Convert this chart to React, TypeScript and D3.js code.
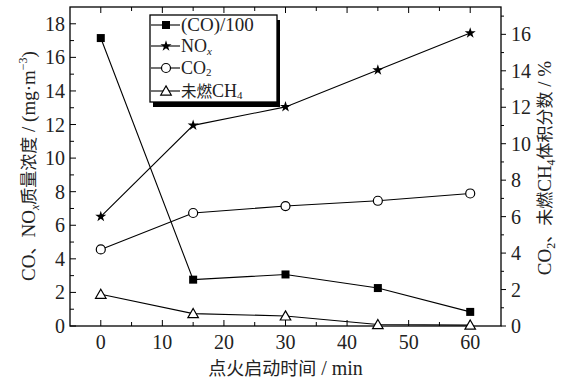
import { useEffect, useRef } from 'react';
import * as d3 from 'd3';

// time after ignition, min
const times = [0, 15, 30, 45, 60];
// left axis (mg/m3)
const coOver100 = [17.15, 2.76, 3.07, 2.26, 0.84];
const nox = [6.52, 11.95, 13.05, 15.25, 17.45];
// right axis (%)
const co2 = [4.2, 6.2, 6.58, 6.87, 7.27];
const ch4 = [1.74, 0.68, 0.55, 0.08, 0.05];

const xTicks = [0, 10, 20, 30, 40, 50, 60];
const leftTicks = [0, 2, 4, 6, 8, 10, 12, 14, 16, 18];
const rightTicks = [0, 2, 4, 6, 8, 10, 12, 14, 16];

const serif = '"Liberation Serif", "Times New Roman", serif';
const cjk = '"Noto Sans CJK SC", "Liberation Serif", serif';

export default function App() {
  const svgRef = useRef<SVGSVGElement>(null);

  useEffect(() => {
    if (!svgRef.current) return;
    d3.select(svgRef.current).selectAll("*").remove();

    const width = 563;
    const height = 386;
    const margin = { top: 7, right: 62, bottom: 60, left: 70 };

    const svg = d3.select(svgRef.current)
      .attr("width", width)
      .attr("height", height)
      .attr("viewBox", [0, 0, width, height]);

    svg.append("rect").attr("width", width).attr("height", height).attr("fill", "white");

    const x = d3.scaleLinear().domain([-5, 65]).range([margin.left, width - margin.right]);
    const yL = d3.scaleLinear().domain([0, 19]).range([height - margin.bottom, margin.top]);
    const yR = d3.scaleLinear().domain([0, 17.5]).range([height - margin.bottom, margin.top]);

    const x0 = margin.left, x1 = width - margin.right;
    const y0 = height - margin.bottom, y1 = margin.top;

    // ticks (bottom/top/left inward, right outward)
    const ax = svg.append("g").attr("stroke", "black").attr("stroke-width", 1);
    d3.range(0, 61, 5).forEach(v => {
      const len = v % 10 === 0 ? 6 : 4;
      ax.append("line").attr("x1", x(v)).attr("x2", x(v)).attr("y1", y0).attr("y2", y0 - len);
      ax.append("line").attr("x1", x(v)).attr("x2", x(v)).attr("y1", y1).attr("y2", y1 + len);
    });
    d3.range(0, 19, 1).forEach(v => {
      const len = v % 2 === 0 ? 6 : 4;
      ax.append("line").attr("x1", x0).attr("x2", x0 + len).attr("y1", yL(v)).attr("y2", yL(v));
    });
    d3.range(0, 18, 1).forEach(v => {
      const len = v % 2 === 0 ? 5 : 3;
      ax.append("line").attr("x1", x1).attr("x2", x1 + len).attr("y1", yR(v)).attr("y2", yR(v));
    });

    // frame
    svg.append("rect")
      .attr("x", x0).attr("y", y1)
      .attr("width", x1 - x0).attr("height", y0 - y1)
      .attr("fill", "none").attr("stroke", "black").attr("stroke-width", 1.3);

    // tick labels
    const tl = svg.append("g").attr("font-family", serif).attr("font-size", 20).attr("fill", "#222");
    xTicks.forEach(v => {
      tl.append("text").attr("x", x(v)).attr("y", y0 + 23).attr("text-anchor", "middle").text(v);
    });
    leftTicks.forEach(v => {
      tl.append("text").attr("x", x0 - 5).attr("y", yL(v) + 7).attr("text-anchor", "end").text(v);
    });
    rightTicks.forEach(v => {
      tl.append("text").attr("x", x1 + 10).attr("y", yR(v) + 7).attr("text-anchor", "start").text(v);
    });

    // series
    type S = { name: string, values: number[], y: d3.ScaleLinear<number, number>, sym: string };
    const series: S[] = [
      { name: "co", values: coOver100, y: yL, sym: "square" },
      { name: "nox", values: nox, y: yL, sym: "star" },
      { name: "co2", values: co2, y: yR, sym: "circle" },
      { name: "ch4", values: ch4, y: yR, sym: "triangle" },
    ];

    const drawMarker = (g: any, sym: string, cx: number, cy: number) => {
      if (sym === "square") {
        g.append("rect").attr("x", cx - 4).attr("y", cy - 4).attr("width", 8).attr("height", 8).attr("fill", "black");
      } else if (sym === "star") {
        g.append("path").attr("transform", `translate(${cx},${cy})`)
          .attr("d", d3.symbol(d3.symbolStar, 38)()).attr("fill", "black");
      } else if (sym === "circle") {
        g.append("circle").attr("cx", cx).attr("cy", cy).attr("r", 4.5)
          .attr("fill", "white").attr("stroke", "black").attr("stroke-width", 1.2);
      } else {
        g.append("path").attr("transform", `translate(${cx},${cy + 1})`)
          .attr("d", d3.symbol(d3.symbolTriangle, 48)())
          .attr("fill", "white").attr("stroke", "black").attr("stroke-width", 1.2);
      }
    };

    const plot = svg.append("g");
    series.forEach(s => {
      const line = d3.line<number>().x((_, i) => x(times[i])).y(d => s.y(d));
      plot.append("path").attr("d", line(s.values)).attr("fill", "none")
        .attr("stroke", "black").attr("stroke-width", 1.1);
    });
    series.forEach(s => {
      const g = plot.append("g");
      s.values.forEach((v, i) => drawMarker(g, s.sym, x(times[i]), s.y(v)));
    });

    // legend
    const lg = svg.append("g");
    const lx = 150, ly = 15, lw = 127, lh = 87;
    lg.append("rect").attr("x", lx + 3).attr("y", ly + 5).attr("width", lw).attr("height", lh).attr("fill", "black");
    lg.append("rect").attr("x", lx).attr("y", ly).attr("width", lw).attr("height", lh)
      .attr("fill", "white").attr("stroke", "black").attr("stroke-width", 1.3);
    const rows = [25, 46, 68, 91];
    series.forEach((s, i) => {
      const ry = rows[i];
      lg.append("line").attr("x1", lx + 1).attr("x2", lx + 30).attr("y1", ry).attr("y2", ry)
        .attr("stroke", "black").attr("stroke-width", 1.1);
      drawMarker(lg, s.sym, lx + 16, ry);
    });
    const lt = lg.append("g").attr("font-family", serif).attr("font-size", 18).attr("fill", "#222");
    lt.append("text").attr("x", lx + 31).attr("y", rows[0] + 6).attr("font-size", 19).text("(CO)/100");
    const t2 = lt.append("text").attr("x", lx + 31).attr("y", rows[1] + 6);
    t2.append("tspan").text("NO");
    t2.append("tspan").attr("font-size", 11).attr("font-style", "italic").attr("dy", 3).text("x");
    const t3 = lt.append("text").attr("x", lx + 31).attr("y", rows[2] + 6);
    t3.append("tspan").text("CO");
    t3.append("tspan").attr("font-size", 11).attr("dy", 2).text("2");
    const t4 = lt.append("text").attr("x", lx + 31).attr("y", rows[3] + 6);
    t4.append("tspan").attr("font-family", cjk).attr("font-size", 15.5).text("未燃");
    t4.append("tspan").text("CH");
    t4.append("tspan").attr("font-size", 11).attr("dy", 2).text("4");

    // axis titles
    const xl = svg.append("text").attr("x", (x0 + x1) / 2).attr("y", 375)
      .attr("text-anchor", "middle").attr("font-size", 18).attr("fill", "#222");
    xl.append("tspan").attr("font-family", cjk).text("点火启动时间");
    xl.append("tspan").attr("font-family", serif).attr("font-size", 20).text(" / min");

    const yl = svg.append("text")
      .attr("transform", `translate(35,166) rotate(-90)`)
      .attr("text-anchor", "middle").attr("font-size", 17).attr("fill", "#222")
      .attr("font-family", serif);
    yl.append("tspan").attr("font-size", 19).text("CO");
    yl.append("tspan").attr("font-family", cjk).text("、");
    yl.append("tspan").attr("font-size", 19).text("NO");
    yl.append("tspan").attr("font-size", 12).attr("font-style", "italic").attr("dy", 4).text("x");
    yl.append("tspan").attr("font-family", cjk).attr("dy", -4).text("质量浓度");
    yl.append("tspan").attr("font-size", 19).text(" / (mg·m");
    yl.append("tspan").attr("font-size", 12).attr("dy", -8).text("−3");
    yl.append("tspan").attr("font-size", 19).attr("dy", 8).text(")");

    const yr = svg.append("text")
      .attr("transform", `translate(551,168) rotate(-90)`)
      .attr("text-anchor", "middle").attr("font-size", 17).attr("fill", "#222")
      .attr("font-family", serif);
    yr.append("tspan").attr("font-size", 19).text("CO");
    yr.append("tspan").attr("font-size", 12).attr("dy", 4).text("2");
    yr.append("tspan").attr("font-family", cjk).attr("dy", -4).text("、未燃");
    yr.append("tspan").attr("font-size", 19).text("CH");
    yr.append("tspan").attr("font-size", 12).attr("dy", 4).text("4");
    yr.append("tspan").attr("font-family", cjk).attr("dy", -4).text("体积分数");
    yr.append("tspan").attr("font-size", 19).text(" / %");
  }, []);

  return (
    <div style={{ position: "absolute", left: 0, top: 0 }}>
      <svg ref={svgRef} style={{ display: "block" }}></svg>
    </div>
  );
}
